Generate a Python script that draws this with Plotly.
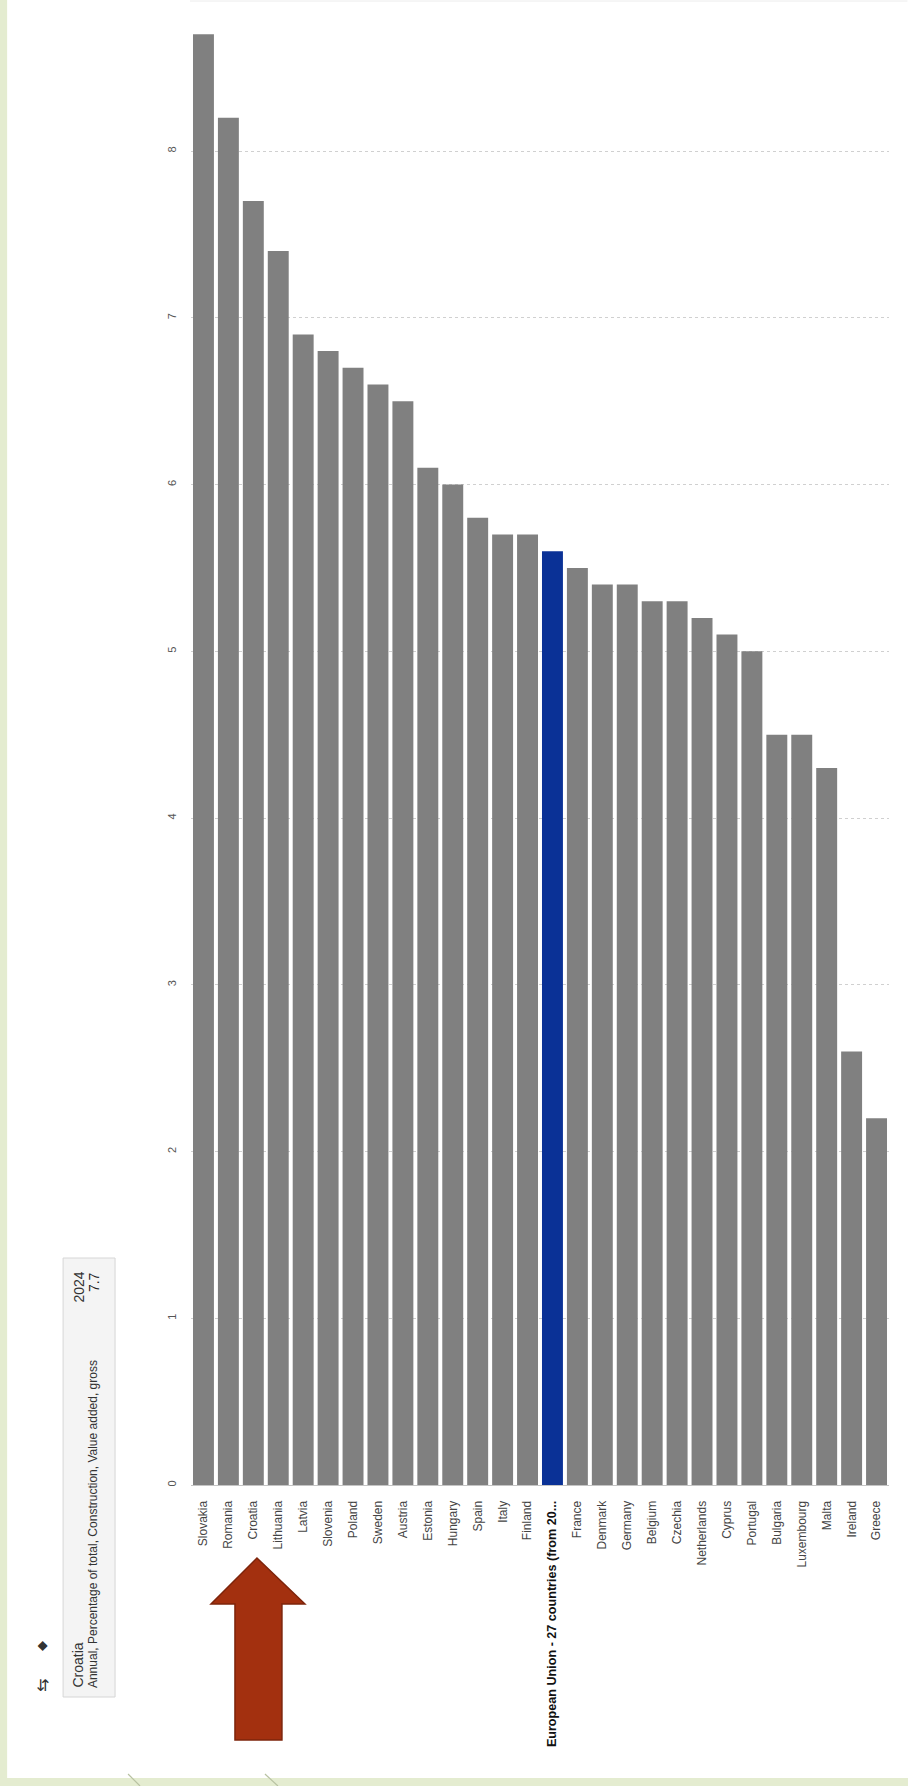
import plotly.graph_objects as go

W, H = 908, 1786
countries = ["Slovakia", "Romania", "Croatia", "Lithuania", "Latvia", "Slovenia", "Poland",
             "Sweden", "Austria", "Estonia", "Hungary", "Spain", "Italy", "Finland",
             "European Union - 27 countries (from 20...", "France", "Denmark", "Germany",
             "Belgium", "Czechia", "Netherlands", "Cyprus", "Portugal", "Bulgaria",
             "Luxembourg", "Malta", "Ireland", "Greece"]
values = [8.7, 8.2, 7.7, 7.4, 6.9, 6.8, 6.7, 6.6, 6.5, 6.1, 6.0, 5.8, 5.7, 5.7,
          5.6, 5.5, 5.4, 5.4, 5.3, 5.3, 5.2, 5.1, 5.0, 4.5, 4.5, 4.3, 2.6, 2.2]
highlight = "European Union - 27 countries (from 20..."
y_ticks = [0, 1, 2, 3, 4, 5, 6, 7, 8]

GRAY = "#808080"
BLUE = "#0a3196"
GREEN = "#e4ecd0"

# plot area in pixels
L, R_EDGE, TOP, BOTTOM = 191, 889.5, 0, 1485
PW, PH = R_EDGE - L, BOTTOM - TOP


def fx(x):
    return (x - L) / PW


def fy(y):
    return (BOTTOM - y) / PH


colors = [BLUE if c == highlight else GRAY for c in countries]
ticktext = [("<b><span style='color:#111;font-size:12.6px'>%s</span></b>" % c) if c == highlight else c
            for c in countries]

fig = go.Figure(go.Bar(x=list(range(len(countries))), y=values, marker_color=colors,
                       marker_line_width=0, hoverinfo="skip"))

shapes = []
# white panel
shapes.append(dict(type="rect", xref="paper", yref="paper", x0=fx(7), x1=fx(W + 5),
                   y0=fy(1778), y1=fy(-5), fillcolor="white", line_width=0, layer="below"))
# faint top border line
shapes.append(dict(type="line", xref="paper", yref="paper", x0=fx(190), x1=fx(908),
                   y0=fy(1), y1=fy(1), line=dict(color="#ececec", width=1), layer="below"))
# diagonal lines in bottom green strip
for (xa, xb) in [(128, 140), (265, 278)]:
    shapes.append(dict(type="line", xref="paper", yref="paper", x0=fx(xa), x1=fx(xb),
                       y0=fy(1774), y1=fy(1786), line=dict(color="#b8c2a2", width=1.2),
                       layer="below"))
# tooltip box
shapes.append(dict(type="rect", xref="paper", yref="paper", x0=fx(63), x1=fx(115),
                   y0=fy(1697), y1=fy(1258), fillcolor="#f4f4f4",
                   line=dict(color="#d6d6d6", width=1), layer="above"))
# red arrow
pts = [(257, 1558), (305, 1604), (282, 1604), (282, 1740), (235, 1740), (235, 1604), (211, 1604)]
path = "M " + " L ".join("%f,%f" % (fx(a), fy(b)) for a, b in pts) + " Z"
shapes.append(dict(type="path", xref="paper", yref="paper", path=path,
                   fillcolor="#a3300f", line=dict(color="#7d240b", width=1.5), layer="above"))

annotations = [
    dict(text="Croatia", x=fx(77), y=fy(1690), xref="paper", yref="paper", textangle=-90,
         showarrow=False, xanchor="center", yanchor="bottom",
         font=dict(size=14, color="#333", family="Liberation Sans, Arial")),
    dict(text="Annual, Percentage of total, Construction, Value added, gross", x=fx(93),
         y=fy(1690), xref="paper", yref="paper", textangle=-90, showarrow=False,
         xanchor="center", yanchor="bottom",
         font=dict(size=12, color="#333", family="Liberation Sans, Arial")),
    dict(text="2024", x=fx(78), y=fy(1270), xref="paper", yref="paper", textangle=-90,
         showarrow=False, xanchor="center", yanchor="top",
         font=dict(size=14, color="#333", family="Liberation Sans, Arial")),
    dict(text="7.7", x=fx(94), y=fy(1270), xref="paper", yref="paper", textangle=-90,
         showarrow=False, xanchor="center", yanchor="top",
         font=dict(size=14, color="#222", family="Liberation Sans, Arial")),
    dict(text="\u25C6", x=fx(42), y=fy(1646), xref="paper", yref="paper", textangle=-90,
         showarrow=False, xanchor="center", yanchor="middle",
         font=dict(size=13, color="#333", family="DejaVu Sans")),
    dict(text="\u21C6", x=fx(42), y=fy(1686), xref="paper", yref="paper", textangle=-90,
         showarrow=False, xanchor="center", yanchor="middle",
         font=dict(size=16, color="#333", family="DejaVu Sans")),
]

fig.update_layout(
    width=W, height=H,
    margin=dict(l=L, r=W - R_EDGE, t=TOP, b=H - BOTTOM, autoexpand=False),
    paper_bgcolor=GREEN, plot_bgcolor="rgba(0,0,0,0)",
    bargap=0.16, showlegend=False,
    shapes=shapes, annotations=annotations,
    font=dict(family="Liberation Sans, Arial", color="#444"),
    xaxis=dict(tickmode="array", tickvals=list(range(len(countries))), ticktext=ticktext,
               tickangle=-90, tickfont=dict(size=12, color="#444"), showgrid=False,
               showline=True, linecolor="#c4c4c4", linewidth=1, ticks="",
               ticklabelstandoff=10, range=[-0.5, len(countries) - 0.5], automargin=False,
               fixedrange=True),
    yaxis=dict(range=[0, BOTTOM / 166.75], tickmode="array", tickvals=y_ticks,
               ticktext=[str(v) for v in y_ticks], tickangle=-90,
               tickfont=dict(size=11, color="#555"), showgrid=True, gridcolor="#d0d0d0",
               griddash="dot", gridwidth=1, zeroline=False, showline=False, ticks="",
               ticklabelstandoff=12, automargin=False, fixedrange=True),
)

fig.write_html("out.html", config={"displayModeBar": False, "staticPlot": True},
               post_script="document.body.style.margin='0px';document.body.style.padding='0px';"
                           "document.body.style.overflow='hidden';"
                           "document.body.style.background='%s';" % GREEN)
